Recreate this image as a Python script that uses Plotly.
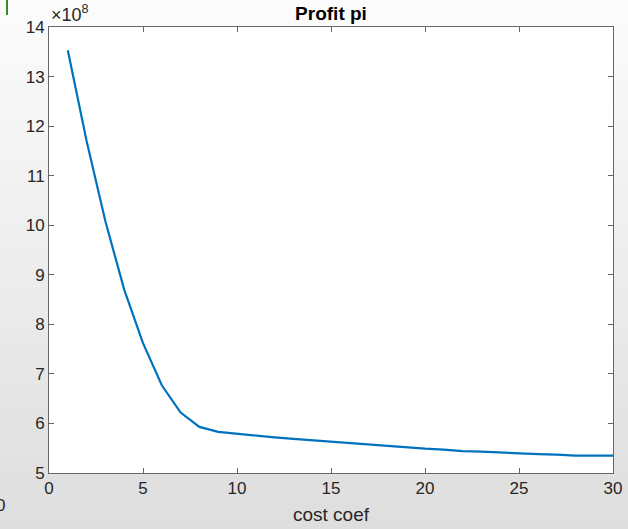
import plotly.graph_objects as go

# cost coefficient values and resulting profit (in units of 1e8)
cost_coef = list(range(1, 31))
profit_e8 = [13.53, 11.70, 10.08, 8.70, 7.62, 6.77, 6.22, 5.93, 5.83, 5.79,
             5.75, 5.72, 5.69, 5.66, 5.63, 5.61, 5.58, 5.55, 5.52, 5.49,
             5.47, 5.44, 5.43, 5.41, 5.40, 5.38, 5.37, 5.35, 5.35, 5.35]
scale = 1e8
profit = [v * scale for v in profit_e8]

x_ticks = [0, 5, 10, 15, 20, 25, 30]
y_tick_labels = [5, 6, 7, 8, 9, 10, 11, 12, 13, 14]

W, H = 628, 529
L, R, T, B = 49, 15, 27, 56
PW, PH = W - L - R, H - T - B

fig = go.Figure()
fig.add_trace(go.Scatter(
    x=cost_coef, y=profit, mode="lines",
    line=dict(color="#0072BD", width=2.2),
    showlegend=False,
))

axis_common = dict(
    showline=True, linecolor="#666666", linewidth=1, mirror="ticks",
    ticks="inside", ticklen=5, tickcolor="#666666", tickwidth=1,
    showgrid=False, zeroline=False, automargin=False,
    tickfont=dict(family="Liberation Sans, Arial", size=17, color="#262626"),
)

fig.update_xaxes(range=[0, 30], tickvals=x_ticks,
                 title=dict(text="cost coef", standoff=10,
                            font=dict(family="Liberation Sans, Arial", size=19, color="#262626")),
                 **axis_common)
fig.update_yaxes(range=[5 * scale, 14 * scale],
                 tickvals=[v * scale for v in y_tick_labels],
                 ticktext=[str(v) for v in y_tick_labels],
                 **axis_common)

# soft vertical gradient behind the axes
shapes = []
n_bands = 40
top = (252, 252, 252)
bottom = (222, 222, 222)
x_lo, x_hi = -L / PW, 1 + R / PW
y_top = 1 + T / PH
for i in range(n_bands):
    t = i / (n_bands - 1)
    c = tuple(round(top[k] + (bottom[k] - top[k]) * t) for k in range(3))
    shapes.append(dict(type="rect", xref="paper", yref="paper", layer="below",
                       x0=x_lo, x1=x_hi,
                       y1=y_top - (i / n_bands) * (H / PH),
                       y0=y_top - ((i + 1) / n_bands) * (H / PH),
                       fillcolor="rgb(%d,%d,%d)" % c, line=dict(width=0)))
# white axes area on top of the gradient
shapes.append(dict(type="rect", xref="paper", yref="paper", layer="below",
                   x0=0, x1=1, y0=0, y1=1, fillcolor="white", line=dict(width=0)))
# small green mark at the top left
shapes.append(dict(type="line", xref="paper", yref="paper",
                   x0=-42 / PW, x1=-42 / PW,
                   y0=1 + 12 / PH, y1=1 + 27 / PH,
                   line=dict(color="#3a8a2a", width=2)))

fig.update_layout(
    width=W, height=H,
    margin=dict(l=L, r=R, t=T, b=B, autoexpand=False),
    paper_bgcolor="#f0f0f0",
    plot_bgcolor="white",
    title=dict(text="<b>Profit pi</b>", x=(L + PW / 2) / W, xanchor="center",
               y=1 - 13 / H, yanchor="middle",
               font=dict(family="Liberation Sans, Arial", size=19, color="black")),
    shapes=shapes,
    annotations=[
        dict(text="×10<sup>8</sup>", xref="paper", yref="paper",
             x=0, y=1, xanchor="left", yanchor="bottom", showarrow=False,
             font=dict(family="Liberation Sans, Arial", size=18, color="#262626")),
        dict(text="0", xref="paper", yref="paper",
             x=-55 / PW, y=-32 / PH, xanchor="left", yanchor="middle", showarrow=False,
             font=dict(family="Liberation Sans, Arial", size=17, color="#262626")),
    ],
)

fig.write_html("out.html")
